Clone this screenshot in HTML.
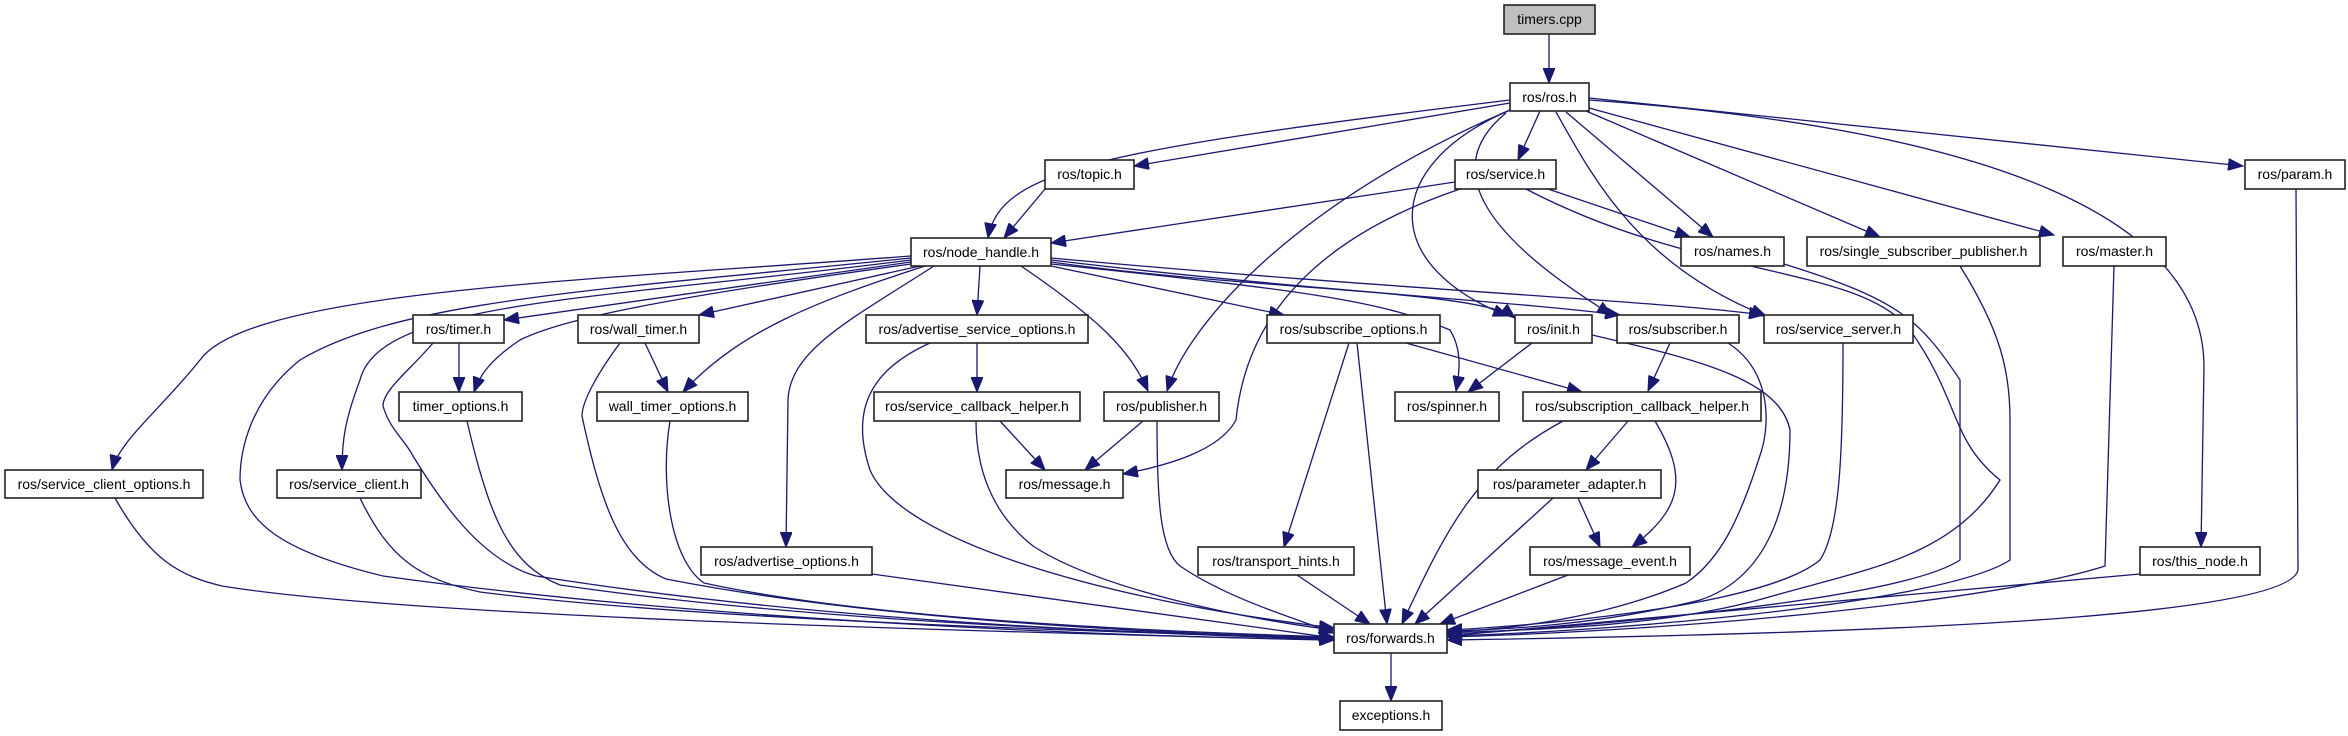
<!DOCTYPE html>
<html><head><meta charset="utf-8"><style>
html,body{margin:0;padding:0;background:#fff;}
svg{display:block;}
text{font-family:"Liberation Sans",sans-serif;font-size:14px;fill:#000;text-anchor:middle;}
.n{fill:#fff;stroke:#222;stroke-width:1.6;}
.e{fill:none;stroke:#191970;stroke-width:1.3;marker-end:url(#a);}
</style></head><body>
<svg width="2348" height="736" viewBox="0 0 2348 736" xmlns="http://www.w3.org/2000/svg">
<defs><marker id="a" markerUnits="userSpaceOnUse" markerWidth="16" markerHeight="12" refX="15" refY="6" orient="auto"><path d="M0,0 L15,6 L0,12 z" fill="#191970" stroke="#191970"/></marker></defs>
<g>
<path class="e" d="M1549,34 L1549,83"/>
<path class="e" d="M1510,100 C1100,150 1000,170 988,238"/>
<path class="e" d="M1510,103 L1134,166"/>
<path class="e" d="M1540,111 L1518,160"/>
<path class="e" d="M1510,110 C1300,200 1190,320 1167,391"/>
<path class="e" d="M1510,110 C1380,166 1380,266 1508,316"/>
<path class="e" d="M1506,113 C1441,166 1479,233 1612,315"/>
<path class="e" d="M1556,112 C1594,180 1640,266 1766,316"/>
<path class="e" d="M1566,112 L1713,237"/>
<path class="e" d="M1586,111 L1880,237"/>
<path class="e" d="M1589,108 L2054,235"/>
<path class="e" d="M1589,98 L2243,166"/>
<path class="e" d="M1589,100 C2000,130 2203,220 2204,366 L2201,547"/>
<path class="e" d="M1455,182 L1051,243"/>
<path class="e" d="M1548,189 L1690,237"/>
<path class="e" d="M1460,189 C1280,250 1243,350 1236,420 C1220,450 1170,465 1123,474"/>
<path class="e" d="M1526,189 C1700,280 1860,265 1910,330 C1960,400 1950,440 2000,480 C1950,560 1860,570 1762,599 C1650,630 1500,630 1447,633"/>
<path class="e" d="M1045,189 L1004,238"/>
<path class="e" d="M911,256 C600,280 250,290 200,360 C160,410 120,440 112,470"/>
<path class="e" d="M911,258 C600,290 400,300 300,360 C250,400 240,450 240,480 C245,520 276,550 383,576 C700,620 1100,636 1334,640"/>
<path class="e" d="M911,260 C600,300 380,300 360,380 C345,420 342,440 342,470"/>
<path class="e" d="M911,262 L504,320"/>
<path class="e" d="M911,264 C650,300 560,320 520,340 C490,360 480,375 474,392"/>
<path class="e" d="M920,266 L699,315"/>
<path class="e" d="M925,266 C820,300 740,330 683,392"/>
<path class="e" d="M934,266 C850,320 790,350 788,400 L786,547"/>
<path class="e" d="M980,266 L977,315"/>
<path class="e" d="M1021,266 C1100,320 1130,350 1148,391"/>
<path class="e" d="M1051,266 L1284,315"/>
<path class="e" d="M1051,262 C1250,290 1480,290 1515,318"/>
<path class="e" d="M1051,260 C1300,290 1500,300 1620,315"/>
<path class="e" d="M1051,258 C1400,290 1650,300 1764,315"/>
<path class="e" d="M1051,264 C1300,290 1380,300 1450,330 C1462,350 1460,370 1456,391"/>
<path class="e" d="M1532,343 L1468,392"/>
<path class="e" d="M1670,343 L1648,391"/>
<path class="e" d="M1728,343 C1770,370 1770,420 1762,449 C1740,520 1720,560 1686,583 C1600,620 1500,630 1447,632"/>
<path class="e" d="M1592,335 C1700,360 1780,380 1790,430 C1790,520 1760,580 1700,600 C1600,625 1500,630 1447,631"/>
<path class="e" d="M1843,343 C1843,450 1840,530 1820,560 C1760,610 1500,628 1447,630"/>
<path class="e" d="M1784,264 C1900,300 1920,320 1960,380 L1960,560 C1900,600 1600,625 1447,635"/>
<path class="e" d="M1960,266 C2000,330 2010,370 2010,420 L2010,560 C1950,600 1650,630 1447,636"/>
<path class="e" d="M2114,266 L2105,566 C2000,600 1700,630 1447,637"/>
<path class="e" d="M2296,189 L2298,570 C2290,610 2000,632 1447,640"/>
<path class="e" d="M2140,574 L1447,636"/>
<path class="e" d="M1406,343 L1582,392"/>
<path class="e" d="M1349,343 L1284,547"/>
<path class="e" d="M1357,343 L1387,624"/>
<path class="e" d="M1143,421 L1085,470"/>
<path class="e" d="M1157,421 C1157,500 1160,550 1180,566 C1230,600 1300,620 1334,633"/>
<path class="e" d="M1000,421 L1045,470"/>
<path class="e" d="M976,421 C976,480 1000,520 1033,546 C1100,590 1250,620 1334,630"/>
<path class="e" d="M977,343 L977,392"/>
<path class="e" d="M930,343 C870,370 850,410 870,470 C900,540 1100,600 1334,628"/>
<path class="e" d="M1628,421 L1586,470"/>
<path class="e" d="M1655,421 C1690,480 1680,510 1632,547"/>
<path class="e" d="M1563,421 C1480,466 1450,520 1402,624"/>
<path class="e" d="M1578,498 L1600,547"/>
<path class="e" d="M1553,498 L1415,624"/>
<path class="e" d="M1568,575 L1440,624"/>
<path class="e" d="M1297,575 L1370,624"/>
<path class="e" d="M1391,653 L1391,701"/>
<path class="e" d="M872,574 L1334,638"/>
<path class="e" d="M115,498 C150,560 180,576 222,586 C400,615 900,630 1334,640"/>
<path class="e" d="M360,498 C390,560 420,579 480,592 C700,620 1100,632 1334,638"/>
<path class="e" d="M467,421 C490,520 510,565 560,585 C800,620 1100,632 1334,638"/>
<path class="e" d="M670,421 C660,480 670,560 704,583 C850,615 1100,630 1334,637"/>
<path class="e" d="M433,343 C410,370 383,390 383,406 C390,430 405,440 413,456 C440,500 480,560 536,576 C800,618 1100,633 1334,639"/>
<path class="e" d="M620,343 C600,370 582,400 582,416 C600,500 620,560 666,579 C850,615 1100,632 1334,638"/>
<path class="e" d="M459,343 L459,392"/>
<path class="e" d="M645,343 L668,392"/>
</g>
<g>
<rect x="1504" y="5" width="91" height="29" fill="#bfbfbf" stroke="#222" stroke-width="1.6"/><text x="1549.5" y="24">timers.cpp</text>
<rect class="n" x="1510" y="83" width="79" height="28"/><text x="1549.5" y="102">ros/ros.h</text>
<rect class="n" x="1045" y="160" width="89" height="29"/><text x="1089.5" y="179">ros/topic.h</text>
<rect class="n" x="1455" y="160" width="101" height="29"/><text x="1505.5" y="179">ros/service.h</text>
<rect class="n" x="2245" y="160" width="100" height="29"/><text x="2295" y="179">ros/param.h</text>
<rect class="n" x="911" y="238" width="140" height="28"/><text x="981" y="257">ros/node_handle.h</text>
<rect class="n" x="1681" y="237" width="103" height="29"/><text x="1732.5" y="256">ros/names.h</text>
<rect class="n" x="1807" y="237" width="233" height="29"/><text x="1923.5" y="256">ros/single_subscriber_publisher.h</text>
<rect class="n" x="2063" y="237" width="103" height="29"/><text x="2114.5" y="256">ros/master.h</text>
<rect class="n" x="413" y="315" width="91" height="28"/><text x="458.5" y="334">ros/timer.h</text>
<rect class="n" x="578" y="315" width="121" height="28"/><text x="638.5" y="334">ros/wall_timer.h</text>
<rect class="n" x="866" y="315" width="222" height="28"/><text x="977" y="334">ros/advertise_service_options.h</text>
<rect class="n" x="1267" y="315" width="173" height="28"/><text x="1353.5" y="334">ros/subscribe_options.h</text>
<rect class="n" x="1515" y="315" width="77" height="28"/><text x="1553.5" y="334">ros/init.h</text>
<rect class="n" x="1617" y="315" width="122" height="28"/><text x="1678" y="334">ros/subscriber.h</text>
<rect class="n" x="1764" y="315" width="149" height="28"/><text x="1838.5" y="334">ros/service_server.h</text>
<rect class="n" x="399" y="392" width="123" height="29"/><text x="460.5" y="411">timer_options.h</text>
<rect class="n" x="597" y="392" width="151" height="29"/><text x="672.5" y="411">wall_timer_options.h</text>
<rect class="n" x="874" y="392" width="206" height="29"/><text x="977" y="411">ros/service_callback_helper.h</text>
<rect class="n" x="1104" y="392" width="115" height="29"/><text x="1161.5" y="411">ros/publisher.h</text>
<rect class="n" x="1395" y="392" width="104" height="29"/><text x="1447" y="411">ros/spinner.h</text>
<rect class="n" x="1523" y="392" width="238" height="29"/><text x="1642" y="411">ros/subscription_callback_helper.h</text>
<rect class="n" x="5" y="470" width="198" height="28"/><text x="104" y="489">ros/service_client_options.h</text>
<rect class="n" x="277" y="470" width="144" height="28"/><text x="349" y="489">ros/service_client.h</text>
<rect class="n" x="1006" y="470" width="117" height="28"/><text x="1064.5" y="489">ros/message.h</text>
<rect class="n" x="1478" y="470" width="183" height="28"/><text x="1569.5" y="489">ros/parameter_adapter.h</text>
<rect class="n" x="701" y="547" width="171" height="28"/><text x="786.5" y="566">ros/advertise_options.h</text>
<rect class="n" x="1198" y="547" width="156" height="28"/><text x="1276" y="566">ros/transport_hints.h</text>
<rect class="n" x="1530" y="547" width="160" height="28"/><text x="1610" y="566">ros/message_event.h</text>
<rect class="n" x="2140" y="547" width="120" height="28"/><text x="2200" y="566">ros/this_node.h</text>
<rect class="n" x="1334" y="624" width="113" height="29"/><text x="1390.5" y="643">ros/forwards.h</text>
<rect class="n" x="1340" y="701" width="102" height="29"/><text x="1391" y="720">exceptions.h</text>
</g>
</svg>
</body></html>
